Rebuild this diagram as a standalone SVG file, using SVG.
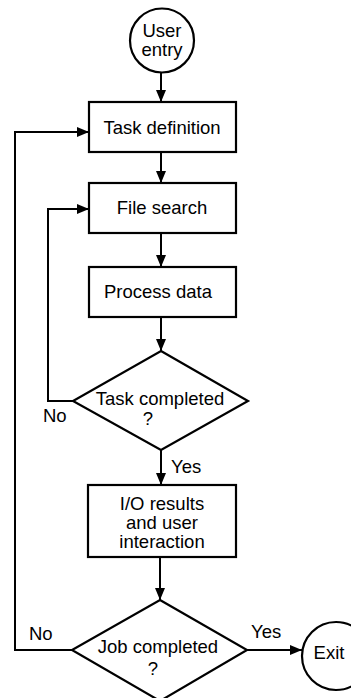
<svg xmlns="http://www.w3.org/2000/svg" width="351" height="698" viewBox="0 0 351 698">
<defs>
<marker id="ah" markerWidth="12" markerHeight="10" refX="12" refY="5" orient="auto" markerUnits="userSpaceOnUse">
<path d="M0,0 L12,5 L0,10 Z" fill="#000"/>
</marker>
<style>
.s{fill:#fff;stroke:#000;stroke-width:2.2}
.c{fill:none;stroke:#000;stroke-width:2}
.t{font-family:"Liberation Sans",Arial,sans-serif;font-size:18.5px;fill:#000;text-anchor:middle}
.l{font-family:"Liberation Sans",Arial,sans-serif;font-size:18.5px;fill:#000}
</style>
</defs>
<rect width="351" height="698" fill="#fff"/>
<g id="connectors">
<line class="c" x1="161" y1="73" x2="161" y2="102" marker-end="url(#ah)"/>
<line class="c" x1="161" y1="152" x2="161" y2="183" marker-end="url(#ah)"/>
<line class="c" x1="161" y1="233" x2="161" y2="267" marker-end="url(#ah)"/>
<line class="c" x1="161" y1="317" x2="161" y2="351" marker-end="url(#ah)"/>
<line class="c" x1="161" y1="450" x2="161" y2="485" marker-end="url(#ah)"/>
<line class="c" x1="160" y1="557" x2="160" y2="600" marker-end="url(#ah)"/>
<polyline class="c" points="73,401 48,401 48,209 89,209" marker-end="url(#ah)"/>
<polyline class="c" points="72,650 15,650 15,132 89,132" marker-end="url(#ah)"/>
<line class="c" x1="247" y1="650" x2="302" y2="650" marker-end="url(#ah)"/>
<text class="l" x="43" y="422">No</text>
<text class="l" x="171" y="473">Yes</text>
<text class="l" x="29" y="640">No</text>
<text class="l" x="251" y="638">Yes</text>
</g>
<g id="user-entry">
<circle class="s" cx="162" cy="40.5" r="32"/>
<text class="t" x="162" y="37">User</text>
<text class="t" x="162" y="56">entry</text>
</g>
<g id="task-definition">
<rect class="s" x="89" y="102" width="147" height="50"/>
<text class="t" x="162" y="134">Task definition</text>
</g>
<g id="file-search">
<rect class="s" x="89" y="183" width="147" height="50"/>
<text class="t" x="162" y="214">File search</text>
</g>
<g id="process-data">
<rect class="s" x="89" y="267" width="147" height="50"/>
<text class="t" x="158" y="298">Process data</text>
</g>
<g id="task-completed">
<polygon class="s" points="161,351 248,401 161,450 73,401"/>
<text class="t" x="160" y="405">Task completed</text>
<text class="t" x="148" y="425">?</text>
</g>
<g id="io-results">
<rect class="s" x="88" y="485" width="148" height="72"/>
<text class="t" x="162" y="510">I/O results</text>
<text class="t" x="162" y="529">and user</text>
<text class="t" x="162" y="548">interaction</text>
</g>
<g id="job-completed">
<polygon class="s" points="160,600 247,650 160,701 72,650"/>
<text class="t" x="158" y="653">Job completed</text>
<text class="t" x="153" y="675">?</text>
</g>
<g id="exit">
<circle class="s" cx="336" cy="656" r="34"/>
<text class="t" x="329" y="659">Exit</text>
</g>
</svg>
